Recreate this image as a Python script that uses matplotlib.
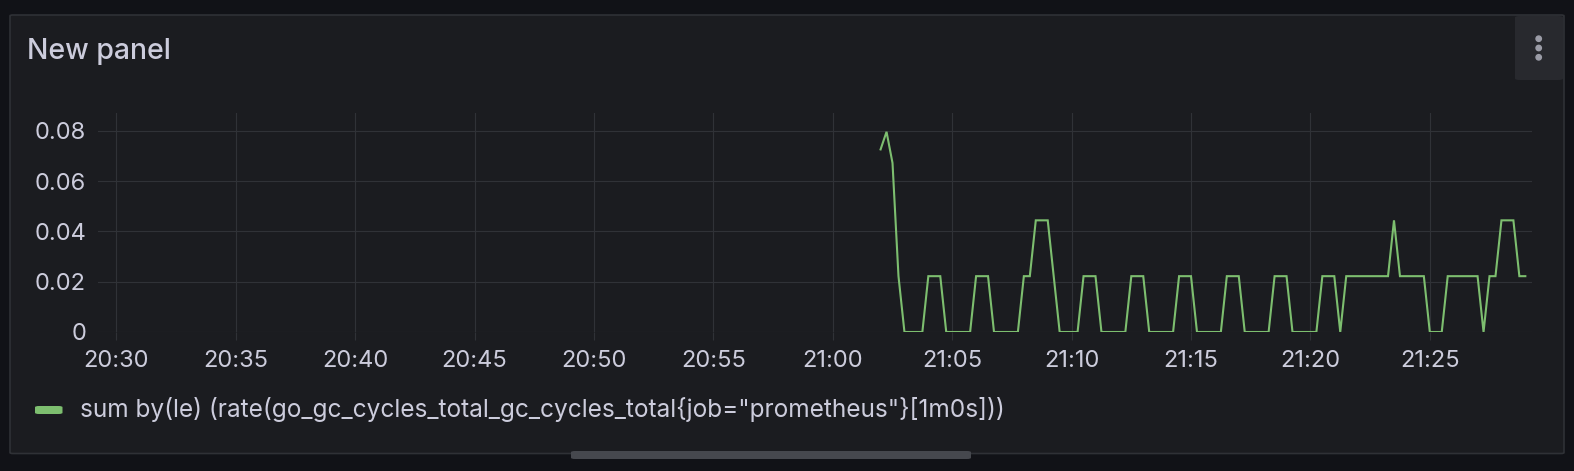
import pandas as pd
import matplotlib
matplotlib.use("Agg")
import matplotlib.pyplot as plt
import matplotlib.dates as mdates
from matplotlib.patches import FancyBboxPatch, Ellipse

# series sampled every 15 s, starting 21:02:00
start = "2024-01-01 21:02:00"
values = [
    0.0726, 0.0796, 0.0672, 0.0222,   # 21:02
    0, 0, 0, 0,                       # 21:03
    0.0222, 0.0222, 0.0222, 0,        # 21:04
    0, 0, 0, 0,                       # 21:05
    0.0222, 0.0222, 0.0222, 0,        # 21:06
    0, 0, 0, 0,                       # 21:07
    0.0222, 0.0222, 0.0444, 0.0444,   # 21:08
    0.0444, 0.0222, 0, 0,             # 21:09
    0, 0, 0.0222, 0.0222,             # 21:10
    0.0222, 0, 0, 0,                  # 21:11
    0, 0, 0.0222, 0.0222,             # 21:12
    0.0222, 0, 0, 0,                  # 21:13
    0, 0, 0.0222, 0.0222,             # 21:14
    0.0222, 0, 0, 0,                  # 21:15
    0, 0, 0.0222, 0.0222,             # 21:16
    0.0222, 0, 0, 0,                  # 21:17
    0, 0, 0.0222, 0.0222,             # 21:18
    0.0222, 0, 0, 0,                  # 21:19
    0, 0, 0.0222, 0.0222,             # 21:20
    0.0222, 0, 0.0222, 0.0222,        # 21:21
    0.0222, 0.0222, 0.0222, 0.0222,   # 21:22
    0.0222, 0.0222, 0.0444, 0.0222,   # 21:23
    0.0222, 0.0222, 0.0222, 0.0222,   # 21:24
    0, 0, 0, 0.0222,                  # 21:25
    0.0222, 0.0222, 0.0222, 0.0222,   # 21:26
    0.0222, 0, 0.0222, 0.0222,        # 21:27
    0.0444, 0.0444, 0.0444, 0.0222,   # 21:28
    0.0222,                           # 21:29
]
times = pd.date_range(start, periods=len(values), freq="15s")
yticks = [0, 0.02, 0.04, 0.06, 0.08]
ytick_labels = ["0", "0.02", "0.04", "0.06", "0.08"]
title = "New panel"
legend_label = 'sum by(le) (rate(go_gc_cycles_total_gc_cycles_total{job="prometheus"}[1m0s]))'

W, H = 1574, 471
canvas_bg = "#111217"
panel_bg = "#1b1c20"
text_col = "#ccccdc"
grid_col = "#303237"
green = "#7dbe6f"

plt.rcParams["font.family"] = ["Inter", "DejaVu Sans"]

fig = plt.figure(figsize=(W / 100, H / 100), dpi=100)
fig.patch.set_facecolor(canvas_bg)


def fx(px):
    return px / W


def fy(py):
    return 1 - py / H


def box(x0, y0, x1, y1, color, rad=0, ec="none", lw=0, z=0):
    p = FancyBboxPatch((fx(x0), fy(y1)), fx(x1 - x0), (y1 - y0) / H,
                       boxstyle="round,pad=0,rounding_size=%f" % (rad / W),
                       transform=fig.transFigure, fc=color, ec=ec, lw=lw,
                       zorder=z)
    fig.patches.append(p)


# panel, menu button, scrollbar
box(10, 15, 1564, 453.5, panel_bg, rad=3, ec="#2f3136", lw=1.2, z=-5)
box(1515, 16, 1563, 80, "#28292e", rad=5, z=1)
for dy in (38.7, 48, 57.3):
    fig.patches.append(Ellipse((fx(1538.7), fy(dy)), 5.4 / W, 5.4 / H, color="#9b9ca7",
                               transform=fig.transFigure, zorder=2))
box(571, 451, 971, 459, "#46484e", rad=4, z=3)

fig.text(fx(27), fy(59.3), title, color=text_col, fontsize=20.5, fontweight="medium",
         va="baseline", ha="left")

# plot area
ax = fig.add_axes([fx(97.7), fy(332), fx(1531.7 - 97.7), (332 - 112.7) / H])
ax.set_facecolor("none")
ax.plot(times, values, color=green, lw=1.5, zorder=3, solid_joinstyle="miter")
ax.set_ylim(0, 0.0872)
ax.set_xlim(pd.Timestamp("2024-01-01 20:29:13"), pd.Timestamp("2024-01-01 21:29:16"))
ax.set_yticks(yticks)
ax.set_yticklabels(ytick_labels)
ax.xaxis.set_major_locator(mdates.MinuteLocator(byminute=range(0, 60, 5)))
ax.xaxis.set_major_formatter(mdates.DateFormatter("%H:%M"))
ax.grid(True, color=grid_col, lw=0.8)
for s in ax.spines.values():
    s.set_visible(False)
ax.tick_params(axis="x", colors=grid_col, labelcolor=text_col, length=5.8,
               width=0.8, pad=7.5, labelsize=17)
ax.tick_params(axis="y", length=0, pad=8.4, labelcolor=text_col, labelsize=17)

# legend
box(35, 406, 62.5, 414, green, rad=4, z=3)
fig.text(fx(79.5), fy(417.5), legend_label, color=text_col, fontsize=17.6,
         va="baseline", ha="left")

fig.savefig("out.png", dpi=100, facecolor=canvas_bg)
